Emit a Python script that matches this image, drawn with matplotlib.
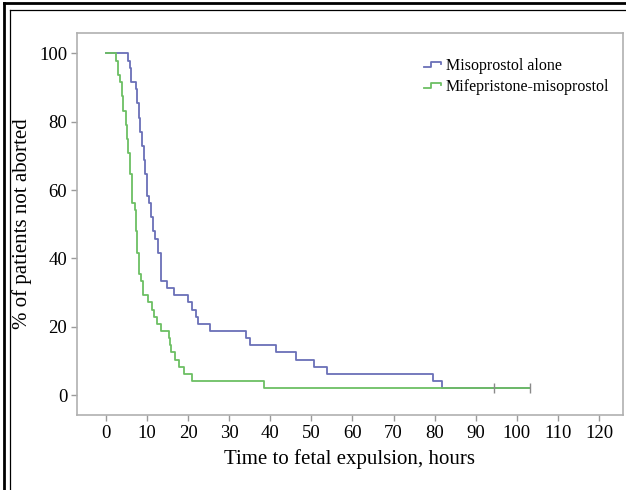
import matplotlib
matplotlib.use("Agg")
import matplotlib.pyplot as plt
from matplotlib.lines import Line2D
from matplotlib.legend_handler import HandlerBase

plt.rcParams['font.family'] = ['Liberation Serif', 'DejaVu Serif']

# Kaplan-Meier step data (time in hours, % not aborted)
miso_t = [0, 5.4, 5.8, 6.2, 7.3, 7.6, 8.0, 8.4, 8.8, 9.2, 9.6, 10.0, 10.4, 11.0,
          11.5, 12.0, 12.8, 13.5, 14.8, 16.5, 20.0, 21.0, 22.0, 22.4, 25.3, 34.2,
          35.0, 41.4, 46.3, 50.6, 53.8, 79.6, 81.8, 103.2]
miso_s = [100, 97.9, 95.8, 91.7, 89.6, 85.4, 81.25, 77.1, 72.9, 68.75, 64.6, 58.3,
          56.25, 52.1, 47.9, 45.8, 41.7, 33.3, 31.25, 29.2, 27.1, 25.0, 22.9, 20.8,
          18.75, 16.7, 14.6, 12.5, 10.4, 8.33, 6.25, 4.17, 2.08, 2.08]

mife_t = [0, 2.4, 2.9, 3.4, 3.9, 4.3, 4.8, 5.2, 5.5, 5.9, 6.3, 7.0, 7.3, 7.7, 8.1,
          8.6, 9.1, 10.3, 11.2, 11.8, 12.5, 13.4, 15.3, 15.6, 15.9, 16.8, 17.7,
          19.0, 21.0, 38.5, 103.2]
mife_s = [100, 97.9, 93.75, 91.7, 87.5, 83.3, 79.2, 75.0, 70.8, 64.6, 56.25, 54.2,
          47.9, 41.7, 35.4, 33.3, 29.2, 27.1, 25.0, 22.9, 20.8, 18.75, 16.7, 14.6,
          12.5, 10.4, 8.33, 6.25, 4.17, 2.08, 2.08]

censor_t = [94.4, 103.2]
censor_s = [2.08, 2.08]

series_names = ["Misoprostol alone", "Mifepristone-misoprostol"]
series_colors = ["#6a70b8", "#6cbf63"]

xticks = list(range(0, 121, 10))
yticks = list(range(0, 101, 20))


class StepHandler(HandlerBase):
    def create_artists(self, legend, orig_handle, xdescent, ydescent,
                       width, height, fontsize, trans):
        w, h = width, height
        xs = [-xdescent, -xdescent + 0.35 * w, -xdescent + 0.35 * w,
              -xdescent + 0.85 * w, -xdescent + 0.85 * w]
        ys = [-ydescent + 0.25 * h, -ydescent + 0.25 * h, -ydescent + 0.7 * h,
              -ydescent + 0.7 * h, -ydescent + 0.5 * h]
        ln = Line2D(xs, ys, color=orig_handle.get_color(),
                    lw=orig_handle.get_linewidth(), transform=trans)
        return [ln]


fig = plt.figure(figsize=(6.26, 4.90), dpi=100)
fig.patch.set_facecolor("white")

# outer decorative frame (left + top, double line)
fig.add_artist(Line2D([3.5 / 626, 3.5 / 626], [0, 1 - 3.5 / 490], color="black",
                      lw=2.0, transform=fig.transFigure))
fig.add_artist(Line2D([3.5 / 626, 1], [1 - 3.5 / 490, 1 - 3.5 / 490], color="black",
                      lw=2.0, transform=fig.transFigure))
fig.add_artist(Line2D([10 / 626, 10 / 626], [0, 1 - 10.5 / 490], color="black",
                      lw=0.9, transform=fig.transFigure))
fig.add_artist(Line2D([10 / 626, 1], [1 - 10.5 / 490, 1 - 10.5 / 490], color="black",
                      lw=0.9, transform=fig.transFigure))

ax = fig.add_axes([77 / 626, 1 - 415 / 490, (623 - 77) / 626, (415 - 33) / 490])

h1, = ax.step(miso_t, miso_s, where="post", color=series_colors[0], lw=1.3,
              label=series_names[0])
h2, = ax.step(mife_t, mife_s, where="post", color=series_colors[1], lw=1.3,
              label=series_names[1])
ax.plot(censor_t, censor_s, linestyle="none", marker="|", markersize=7,
        color="#8a8a8a", mew=1.0)

ax.set_xlim(-7.0, 125.8)
ax.set_ylim(-5.85, 106)
ax.set_xticks(xticks)
ax.set_yticks(yticks)
ax.tick_params(axis="both", direction="out", length=4, width=1.0, color="#9a9a9a",
               labelsize=13.5, labelcolor="black", pad=3)
for sp in ax.spines.values():
    sp.set_color("#b0b0b0")
    sp.set_linewidth(1.2)

ax.set_xlabel("Time to fetal expulsion, hours", fontsize=15, labelpad=5)
ax.set_ylabel("% of patients not aborted", fontsize=15, labelpad=5)

leg = ax.legend(handles=[h1, h2], loc="upper left", frameon=False, fontsize=11.5,
                handlelength=1.3, handletextpad=0.1, labelspacing=0.3,
                borderpad=0, borderaxespad=0,
                bbox_to_anchor=(0.635, 0.935),
                handler_map={Line2D: StepHandler()})

fig.savefig("out.png", dpi=100)
